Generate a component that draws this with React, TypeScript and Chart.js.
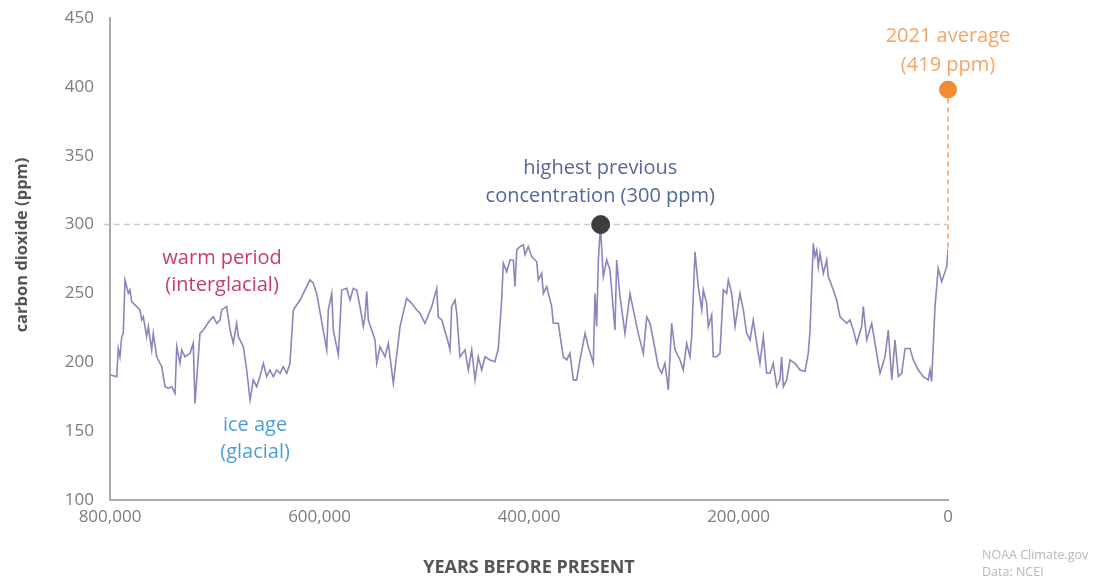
import React, { useEffect, useRef } from "react";
import { Chart, registerables } from "chart.js";

Chart.register(...registerables);

// Thousands of years before present
const yearsKa = [
  799.5, 793.6, 792.1, 790.5, 788.8, 787.3, 785.7, 784.1, 782.5, 780.9, 779.3, 774.5, 771.4, 769.7, 768.2,
  765.0, 763.4, 760.2, 758.7, 755.4, 752.3, 750.6, 747.5, 744.3, 741.1, 737.9, 736.3, 733.2, 731.6, 728.4,
  723.6, 720.5, 718.9, 714.1, 710.9, 704.5, 701.4, 698.1, 695.0, 693.4, 688.6, 685.4, 682.3, 679.1, 677.5,
  672.7, 669.5, 666.3, 663.2, 660.0, 656.8, 653.6, 650.4, 647.3, 644.1, 640.9, 637.7, 634.6, 631.3, 628.2,
  625.0, 618.6, 609.1, 605.9, 602.7, 593.1, 591.6, 588.3, 586.8, 582.0, 578.8, 574.0, 570.9, 567.7, 564.5,
  561.3, 558.2, 556.6, 554.9, 553.4, 550.2, 547.0, 545.4, 542.2, 537.5, 534.3, 529.5, 523.1, 516.8, 512.0,
  507.2, 504.1, 499.3, 492.9, 488.1, 486.6, 483.3, 478.6, 475.4, 473.8, 470.6, 469.0, 465.9, 461.1, 457.9,
  454.7, 451.5, 448.4, 445.2, 442.0, 437.2, 432.5, 429.3, 426.1, 424.5, 421.3, 418.1, 415.0, 413.4, 411.7,
  408.6, 405.4, 403.8, 400.7, 397.4, 392.6, 391.1, 387.9, 386.3, 383.1, 378.3, 376.8, 372.0, 367.3, 364.0,
  360.9, 357.7, 354.5, 351.3, 346.5, 343.4, 338.6, 337.0, 335.4, 333.8, 331.8, 329.1, 325.8, 322.7, 317.9,
  316.3, 313.1, 308.4, 303.6, 300.4, 295.7, 290.9, 287.6, 284.5, 281.3, 276.6, 273.3, 270.2, 267.0, 263.8,
  260.6, 255.8, 252.7, 249.5, 246.3, 244.7, 241.5, 238.4, 235.1, 233.6, 230.4, 228.8, 225.6, 224.1, 220.8,
  217.7, 214.5, 211.3, 209.7, 206.5, 203.3, 198.6, 195.4, 192.2, 189.0, 185.9, 182.6, 179.5, 176.3, 173.1,
  169.9, 166.8, 163.5, 160.4, 158.8, 157.2, 154.0, 150.8, 146.1, 141.3, 136.5, 133.4, 131.7, 128.6, 127.0,
  125.3, 123.8, 122.2, 119.0, 115.8, 114.3, 109.5, 106.3, 103.1, 100.0, 96.7, 93.6, 90.4, 87.2, 82.4,
  80.9, 77.6, 72.8, 68.1, 64.9, 60.1, 57.0, 53.7, 50.6, 47.4, 44.2, 41.0, 36.3, 33.1, 28.4,
  23.6, 18.8, 17.2, 15.6, 12.4, 9.3, 6.0, 1.2, 0,
];

// Carbon dioxide, ppm
const co2 = [
  190.8, 189.6, 210, 204, 218.6, 221, 259.8, 255, 250, 252.5, 244, 240.4, 238, 230.7, 233,
  218.6, 226, 209, 221, 204, 199.3, 196.8, 182.3, 181, 182.3, 177.5, 211.3, 199.3, 209, 204,
  206.5, 213.8, 170, 221, 223.4, 230.7, 233, 228.3, 230.7, 238, 240.4, 223.4, 213.8, 228.3, 218.6,
  211.3, 194.4, 172.6, 187.2, 182.3, 189.6, 199.3, 189.6, 194.4, 189.6, 194.4, 192, 196.8, 192, 199.3,
  238, 245.2, 259.8, 257.4, 250, 209, 238, 250, 223.4, 205.3, 252.5, 253.7, 245.2, 253.7, 252.5,
  240.4, 226, 233, 251.3, 230.7, 223.4, 216.2, 199.3, 211.3, 204, 213.8, 184.7, 226, 246.4, 242.8,
  238, 235.6, 228.3, 240.4, 253.7, 233, 230.7, 218.6, 209, 240.4, 245.2, 235.6, 204, 209, 194.4,
  209, 187.2, 204, 194.4, 204, 201.7, 200.4, 210, 245.2, 271.9, 265.8, 274.3, 274.3, 255, 281.5,
  284, 285.2, 278, 284, 276.7, 273, 259.8, 264.6, 250, 255, 240.4, 228.3, 228.3, 204, 201.7,
  206.5, 187.2, 187.2, 201.7, 221, 211.3, 199.3, 250, 226, 274.3, 299, 262.2, 274.3, 267, 223.4,
  274.3, 247.6, 221, 250, 238, 221, 206.5, 233, 228.3, 216.2, 196.8, 192, 199.3, 180, 228.3,
  209, 201.7, 194.4, 213.8, 204, 218.6, 280.3, 255, 238, 252.5, 242.8, 226, 234.4, 204, 204,
  206.5, 252.5, 250, 259.8, 250, 226, 250, 238, 221, 216.2, 230.7, 213.8, 199.3, 218.6, 192,
  192, 199.3, 182.3, 187.2, 204, 182.3, 187.2, 201.7, 199.3, 194.4, 193.3, 206.5, 223.4, 286.4, 276.7,
  281.5, 269.4, 279.2, 264.6, 274.3, 262.2, 252.5, 245.2, 233, 230.7, 228.3, 230.7, 223.4, 213.8, 226,
  240.4, 216.2, 228.3, 206.5, 192, 204, 223.4, 187.2, 216.2, 189.6, 192, 210, 210, 201.7, 194.4,
  189.6, 187.2, 194.4, 186, 240.4, 268.2, 258.5, 269.4, 282,
];

const yTickValues = [100, 150, 200, 250, 300, 350, 400, 450];
const xTickValues = [800, 600, 400, 200, 0];

const previousHigh = { ka: 331.6, ppm: 300 };
const latest = { ka: 0, ppm: 398 };
const latestLineEnd = 282;
const line300Start = 806;

const annotations = [
  { ka: 0, ppm: 437, text: "2021 average", color: "#f4a466" },
  { ka: 0, ppm: 415.5, text: "(419 ppm)", color: "#f4a466" },
  { ka: 332, ppm: 341, text: "highest previous", color: "#52679a" },
  { ka: 332, ppm: 320.5, text: "concentration (300 ppm)", color: "#52679a" },
  { ka: 693, ppm: 275.5, text: "warm period", color: "#c93a72" },
  { ka: 693, ppm: 256, text: "(interglacial)", color: "#c93a72" },
  { ka: 661.5, ppm: 154.5, text: "ice age", color: "#4c9fd6" },
  { ka: 661.5, ppm: 135, text: "(glacial)", color: "#4c9fd6" },
];

const yTitle = "carbon dioxide (ppm)";
const xTitle = "YEARS BEFORE PRESENT";
const credits = ["NOAA Climate.gov", "Data: NCEI"];

const FONT = "'Open Sans', 'Noto Sans', sans-serif";

const textPlugin = {
  id: "textPlugin",
  afterDraw(chart: any) {
    const ctx = chart.ctx;
    const xs = chart.scales.x;
    const ys = chart.scales.y;
    const area = chart.chartArea;
    ctx.save();
    ctx.textAlign = "center";
    ctx.textBaseline = "middle";
    ctx.font = `20px ${FONT}`;
    for (const a of annotations) {
      ctx.fillStyle = a.color;
      ctx.fillText(a.text, xs.getPixelForValue(a.ka), ys.getPixelForValue(a.ppm));
    }
    // axis titles
    ctx.fillStyle = "#555555";
    ctx.font = `bold 18px ${FONT}`;
    ctx.fillText(xTitle, (area.left + area.right) / 2, chart.height - 13);
    ctx.save();
    ctx.translate(22, (area.top + area.bottom) / 2 - 14);
    ctx.rotate(-Math.PI / 2);
    ctx.font = `bold 16.5px ${FONT}`;
    ctx.fillText(yTitle, 0, 0);
    ctx.restore();
    // credits
    ctx.textAlign = "left";
    ctx.fillStyle = "#b8b8b8";
    ctx.font = `12.5px ${FONT}`;
    ctx.fillText(credits[0], area.right + 34, chart.height - 26);
    ctx.fillText(credits[1], area.right + 34, chart.height - 9);
    ctx.restore();
  },
};

export default function App() {
  const ref = useRef<HTMLCanvasElement | null>(null);

  useEffect(() => {
    document.body.style.margin = "0";
    const canvas = ref.current;
    if (!canvas) return;
    const chart = new Chart(canvas, {
      type: "line",
      data: {
        datasets: [
          {
            label: "highest",
            data: [{ x: previousHigh.ka, y: previousHigh.ppm }],
            showLine: false,
            pointRadius: 9,
            pointBackgroundColor: "#3d3d3d",
            pointBorderColor: "#3d3d3d",
            order: 0,
            clip: false,
          } as any,
          {
            label: "latest",
            data: [{ x: latest.ka, y: latest.ppm }],
            showLine: false,
            pointRadius: 8.5,
            pointBackgroundColor: "#f28b34",
            pointBorderColor: "#f28b34",
            order: 0,
            clip: false,
          } as any,
          {
            label: "co2",
            data: yearsKa.map((x, i) => ({ x, y: co2[i] })),
            borderColor: "#8886bb",
            borderWidth: 1.6,
            pointRadius: 0,
            tension: 0,
            order: 1,
          },
          {
            label: "line300",
            data: [
              { x: line300Start, y: previousHigh.ppm },
              { x: 0, y: previousHigh.ppm },
            ],
            borderColor: "#c9c9c9",
            borderWidth: 1.5,
            borderDash: [6, 4],
            pointRadius: 0,
            order: 2,
            clip: false,
          } as any,
          {
            label: "latestLine",
            data: [
              { x: latest.ka, y: latest.ppm },
              { x: latest.ka, y: latestLineEnd },
            ],
            borderColor: "#f4a060",
            borderWidth: 1.5,
            borderDash: [5, 4],
            pointRadius: 0,
            order: 2,
            clip: false,
          } as any,
        ],
      },
      options: {
        animation: false,
        responsive: false,
        maintainAspectRatio: false,
        layout: { padding: { left: 0, right: 156, top: 18, bottom: 0 } },
        plugins: { legend: { display: false }, tooltip: { enabled: false } },
        scales: {
          x: {
            type: "linear",
            reverse: true,
            min: 0,
            max: 800,
            afterBuildTicks: (s: any) => {
              s.ticks = xTickValues.map((v) => ({ value: v }));
            },
            ticks: {
              color: "#7c7c7c",
              font: { family: FONT, size: 17 },
              padding: 7,
              maxRotation: 0,
              callback: (v: any) => (Number(v) * 1000).toLocaleString("en-US"),
            },
            grid: { display: false, drawTicks: false },
            border: { display: true, color: "#a9a9a9", width: 2 },
            afterFit: (s: any) => {
              s.height = 81;
              s.paddingLeft = 0;
              s.paddingRight = 0;
            },
          },
          y: {
            min: 100,
            max: 450,
            afterBuildTicks: (s: any) => {
              s.ticks = yTickValues.map((v) => ({ value: v }));
            },
            ticks: {
              color: "#7c7c7c",
              font: { family: FONT, size: 17 },
              padding: 16,
            },
            grid: { display: false, drawTicks: false },
            border: { display: true, color: "#a9a9a9", width: 2 },
            afterFit: (s: any) => {
              s.width = 110;
              s.paddingTop = 0;
              s.paddingBottom = 0;
            },
          },
        },
      },
      plugins: [textPlugin],
    });
    return () => chart.destroy();
  }, []);

  return (
    <div style={{ width: 1104, height: 581, background: "#ffffff" }}>
      <canvas ref={ref} width={1104} height={581} style={{ width: 1104, height: 581, display: "block" }} />
    </div>
  );
}
